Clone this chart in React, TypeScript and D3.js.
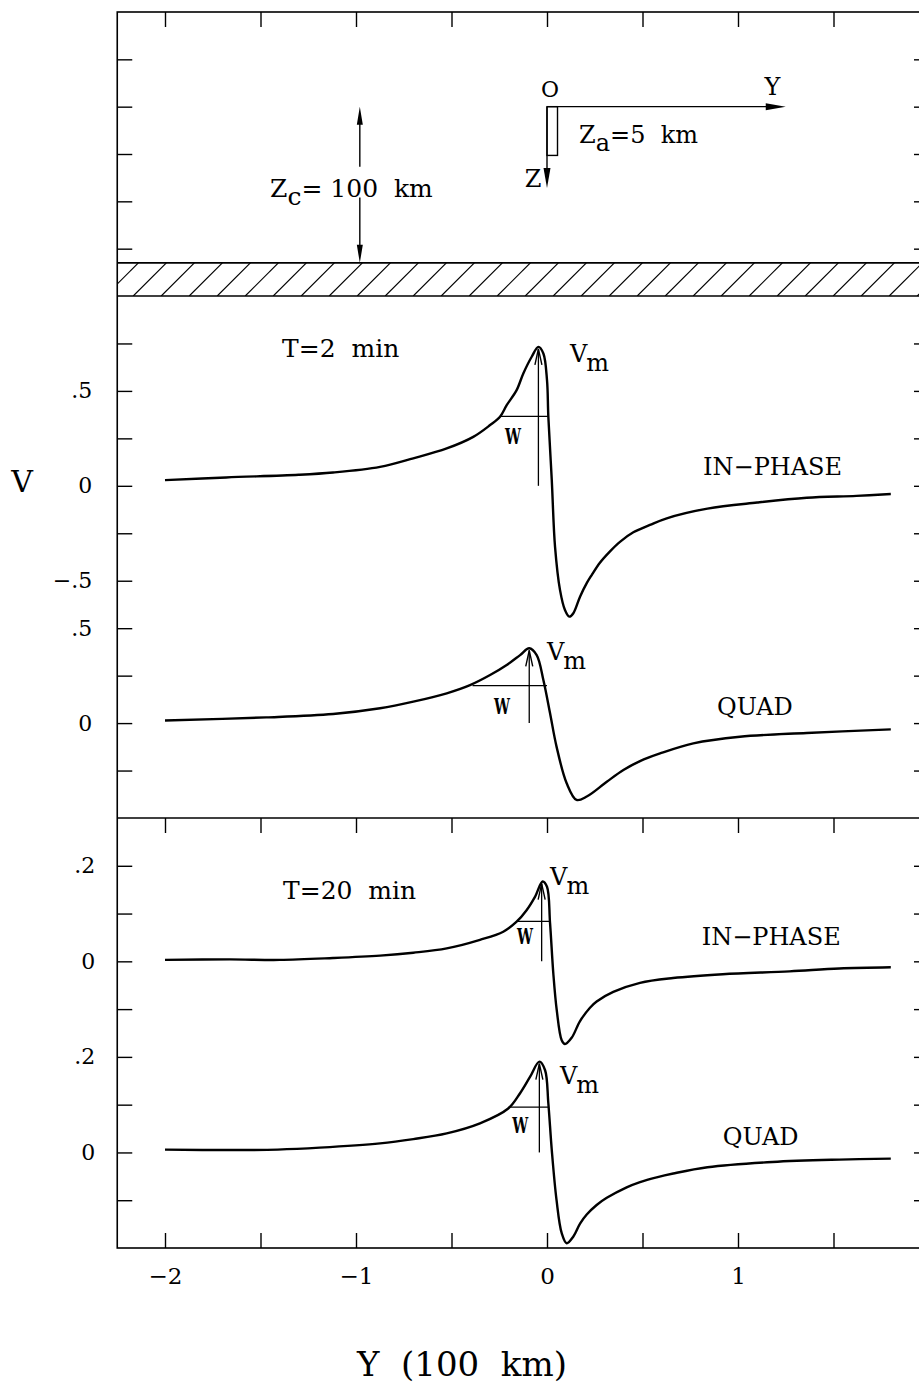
import React, { useEffect, useRef } from 'react';
import * as d3 from 'd3';

// Profiles across the anomaly: Y in units of 100 km, V normalised.
// Values.

// T = 2 min, in-phase
const ip2Y = [-2.0, -1.68, -1.3, -1.12, -0.874, -0.7, -0.525, -0.386, -0.298, -0.246, -0.211, -0.159, -0.124, -0.08, -0.045, -0.019, 0.0, 0.007, 0.025, 0.042, 0.068, 0.094, 0.117, 0.138, 0.173, 0.208, 0.234, 0.277, 0.33, 0.382, 0.452, 0.539, 0.627, 0.84, 1.1, 1.36, 1.62, 1.8];
const ip2V = [0.03, 0.044, 0.058, 0.07, 0.1, 0.145, 0.197, 0.258, 0.32, 0.364, 0.425, 0.504, 0.592, 0.68, 0.732, 0.697, 0.557, 0.364, 0.03, -0.32, -0.548, -0.654, -0.689, -0.671, -0.584, -0.513, -0.47, -0.405, -0.345, -0.295, -0.245, -0.206, -0.171, -0.12, -0.088, -0.063, -0.053, -0.043];

// T = 2 min, quadrature
const q2Y = [-2.0, -1.47, -1.12, -0.874, -0.7, -0.525, -0.403, -0.298, -0.211, -0.141, -0.093, -0.054, -0.019, 0.016, 0.05, 0.103, 0.155, 0.208, 0.313, 0.4, 0.487, 0.592, 0.766, 1.01, 1.36, 1.8];
const q2V = [0.014, 0.03, 0.048, 0.078, 0.113, 0.157, 0.2, 0.253, 0.306, 0.358, 0.394, 0.358, 0.227, 0.052, -0.124, -0.317, -0.405, -0.387, -0.309, -0.247, -0.2, -0.16, -0.107, -0.072, -0.052, -0.033];

// T = 20 min, in-phase
const ip20Y = [-2.0, -1.66, -1.4, -1.12, -0.874, -0.7, -0.525, -0.351, -0.229, -0.159, -0.107, -0.063, -0.023, 0.0, 0.016, 0.033, 0.051, 0.077, 0.094, 0.129, 0.173, 0.225, 0.26, 0.347, 0.487, 0.66, 0.92, 1.27, 1.53, 1.8];
const ip20V = [0.003, 0.004, 0.003, 0.007, 0.012, 0.018, 0.027, 0.045, 0.062, 0.083, 0.107, 0.135, 0.167, 0.156, 0.08, -0.025, -0.102, -0.165, -0.173, -0.16, -0.125, -0.097, -0.084, -0.064, -0.045, -0.035, -0.027, -0.021, -0.015, -0.0125];

// T = 20 min, quadrature
const q20Y = [-2.0, -1.66, -1.41, -1.19, -0.874, -0.7, -0.525, -0.351, -0.203, -0.141, -0.089, -0.04, -0.01, 0.007, 0.025, 0.05, 0.077, 0.103, 0.138, 0.173, 0.208, 0.26, 0.313, 0.417, 0.487, 0.574, 0.661, 0.84, 1.18, 1.53, 1.8];
const q20V = [0.006, 0.005, 0.006, 0.01, 0.019, 0.028, 0.04, 0.061, 0.092, 0.124, 0.158, 0.19, 0.172, 0.103, 0.005, -0.1, -0.169, -0.19, -0.176, -0.149, -0.13, -0.11, -0.095, -0.073, -0.062, -0.052, -0.044, -0.031, -0.02, -0.015, -0.013];

// ticks
const xTicks = [-2, -1.5, -1, -0.5, 0, 0.5, 1, 1.5];
const xTickLabels = ['−2', '', '−1', '', '0', '', '1', ''];
const topTicks = [1, 2, 3, 4, 5];
const midTicks = [0.75, 0.5, 0.25, 0, -0.25, -0.5, -0.75, -1, -1.25, -1.5]; // in-phase units
const lowTicks = [0.2, 0.1, 0, -0.1, -0.2, -0.3, -0.4, -0.5]; // in-phase units
const midIPLabels = [0.5, 0, -0.5];
const midQLabels = [0.5, 0];
const lowIPLabels = [0.2, 0];
const lowQLabels = [0.2, 0];

// sketch in the top panel (schematic depth units)
const originDepth = 2;
const yArrowEnd = 1.25;
const zArrowEnd = 3.72;
const slabWidth = 0.055;
const slabBottom = 3.03;
const conductorTop = 5.3;
const zcAt = -0.98;

const FONT = '"DejaVu Serif", serif';

const fmtV = (v: number) => (v === 0 ? '0' : (v < 0 ? '−' : '') + String(Math.abs(v)).replace(/^0/, ''));

const App = () => {
  const svgRef = useRef<SVGSVGElement>(null);

  useEffect(() => {
    if (!svgRef.current) return;
    const svg = d3.select(svgRef.current);
    svg.selectAll('*').remove();

    const width = 919;
    const height = 1384;
    svg.attr('width', width).attr('height', height);
    svg.append('rect').attr('width', width).attr('height', height).attr('fill', '#fff');

    const x = d3.scaleLinear().domain([-2, 1]).range([165, 738]);
    const left = x(-2.25);
    const right = x(2.0);
    const yTop = d3.scaleLinear().domain([0, 6]).range([12, 296]);
    const yMidIP = d3.scaleLinear().domain([1.0, -1.75]).range([296, 818]);
    const yMidQ = d3.scaleLinear().domain([2.25, -0.5]).range([296, 818]);
    const yLowIP = d3.scaleLinear().domain([0.3, -0.6]).range([818, 1248]);
    const yLowQ = d3.scaleLinear().domain([0.7, -0.2]).range([818, 1248]);
    const bottom = yLowIP(-0.6);

    // hatched conductor
    svg.append('clipPath').attr('id', 'band')
      .append('rect')
      .attr('x', left).attr('y', yTop(conductorTop))
      .attr('width', right - left).attr('height', yTop(6) - yTop(conductorTop));
    const hatchH = yTop(6) - yTop(conductorTop);
    svg.append('g').attr('clip-path', 'url(#band)')
      .selectAll('line')
      .data(d3.range(left - 40, right + 10, 28))
      .join('line')
      .attr('x1', d => d).attr('y1', yTop(6))
      .attr('x2', d => d + hatchH).attr('y2', yTop(conductorTop))
      .attr('stroke', '#000').attr('stroke-width', 1.2);

    // frame
    const frame = svg.append('g').attr('stroke', '#000').attr('stroke-width', 1.6).attr('fill', 'none');
    frame.append('rect').attr('x', left).attr('y', yTop(0)).attr('width', right - left).attr('height', bottom - yTop(0));
    [yTop(conductorTop), yTop(6), yMidIP(-1.75)].forEach(yy => {
      frame.append('line').attr('x1', left).attr('x2', right).attr('y1', yy).attr('y2', yy);
    });

    // side ticks
    const sideTicks = (scale: d3.ScaleLinear<number, number>, values: number[]) => {
      svg.append('g').attr('transform', `translate(${left},0)`)
        .call(d3.axisLeft(scale).tickValues(values).tickSize(-15).tickFormat(() => ''))
        .call(g => g.select('.domain').remove())
        .selectAll('line').attr('stroke-width', 1.4);
      svg.append('g').attr('transform', `translate(${right},0)`)
        .call(d3.axisRight(scale).tickValues(values).tickSize(-15).tickFormat(() => ''))
        .call(g => g.select('.domain').remove())
        .selectAll('line').attr('stroke-width', 1.4);
    };
    sideTicks(yTop, topTicks);
    sideTicks(yMidIP, midTicks);
    sideTicks(yLowIP, lowTicks);

    // V tick labels
    const vLabels = (scale: d3.ScaleLinear<number, number>, values: number[], pad: number) => {
      svg.append('g').attr('transform', `translate(${left},0)`)
        .call(d3.axisLeft(scale).tickValues(values).tickSize(0).tickPadding(pad).tickFormat(d => fmtV(+d)))
        .call(g => g.select('.domain').remove())
        .selectAll('text')
        .attr('font-family', FONT).attr('font-size', 22).attr('fill', '#000');
    };
    vLabels(yMidIP, midIPLabels, 25);
    vLabels(yMidQ, midQLabels, 25);
    vLabels(yLowIP, lowIPLabels, 22);
    vLabels(yLowQ, lowQLabels, 22);

    // Y ticks
    const xTickAt = (yy: number, up: boolean) => {
      const ax = up ? d3.axisTop(x) : d3.axisBottom(x);
      svg.append('g').attr('transform', `translate(0,${yy})`)
        .call(ax.tickValues(xTicks).tickSize(15).tickFormat(() => ''))
        .call(g => g.select('.domain').remove())
        .selectAll('line').attr('stroke-width', 1.4);
    };
    xTickAt(yTop(0), false);
    xTickAt(yMidIP(-1.75), false);
    xTickAt(bottom, true);

    svg.append('g').attr('transform', `translate(0,${bottom})`)
      .call(d3.axisBottom(x).tickValues(xTicks).tickSize(0).tickPadding(20)
        .tickFormat((d, i) => xTickLabels[i]))
      .call(g => g.select('.domain').remove())
      .selectAll('text')
      .attr('font-family', FONT).attr('font-size', 23).attr('fill', '#000');

    // axis titles
    svg.append('text').attr('x', 22).attr('y', yMidIP(0) + 6)
      .attr('text-anchor', 'middle').attr('font-family', FONT).attr('font-size', 30)
      .text('V');
    svg.append('text').attr('x', 357).attr('y', 1376)
      .attr('font-family', FONT).attr('font-size', 34)
      .text('Y\u00A0\u00A0(100\u00A0\u00A0km)');

    // curves
    const series = [
      { ys: ip2Y, vs: ip2V, y: yMidIP, arrowAt: -0.045, wFrom: -0.245, wTo: 0.006, label: 'IN−PHASE', labelAt: [0.817, 0.057], vmAt: [0.12, 0.65], wAt: [-0.178, 0.22] },
      { ys: q2Y, vs: q2V, y: yMidQ, arrowAt: -0.093, wFrom: -0.39, wTo: 0.0, label: 'QUAD', labelAt: [0.89, 0.044], vmAt: [0.0, 0.33], wAt: [-0.236, 0.047] },
      { ys: ip20Y, vs: ip20V, y: yLowIP, arrowAt: -0.028, wFrom: -0.157, wTo: 0.016, label: 'IN−PHASE', labelAt: [0.81, 0.034], vmAt: [0.016, 0.16], wAt: [-0.115, 0.036] },
      { ys: q20Y, vs: q20V, y: yLowQ, arrowAt: -0.04, wFrom: -0.2, wTo: 0.008, label: 'QUAD', labelAt: [0.92, 0.015], vmAt: [0.068, 0.143], wAt: [-0.14, 0.04] },
    ];

    series.forEach(s => {
      const pts: [number, number][] = s.ys.map((v, i) => [v, s.vs[i]]);
      const line = d3.line<[number, number]>()
        .x(d => x(d[0]))
        .y(d => s.y(d[1]))
        .curve(d3.curveCatmullRom.alpha(0.5));
      svg.append('path').attr('d', line(pts))
        .attr('fill', 'none').attr('stroke', '#000').attr('stroke-width', 2.4)
        .attr('stroke-linejoin', 'round');

      const peak = d3.max(s.vs) as number;
      const ax = x(s.arrowAt);
      const tipY = s.y(peak) + 2;
      // Vm arrow
      svg.append('line').attr('x1', ax).attr('x2', ax).attr('y1', s.y(0)).attr('y2', tipY)
        .attr('stroke', '#000').attr('stroke-width', 1.3);
      svg.append('path')
        .attr('d', `M${ax - 3.5},${tipY + 16}L${ax},${tipY}L${ax + 3.5},${tipY + 16}`)
        .attr('fill', 'none').attr('stroke', '#000').attr('stroke-width', 1.4);
      // half width
      svg.append('line').attr('x1', x(s.wFrom)).attr('x2', x(s.wTo))
        .attr('y1', s.y(peak / 2)).attr('y2', s.y(peak / 2))
        .attr('stroke', '#000').attr('stroke-width', 1.3);

      svg.append('text').attr('x', x(s.wAt[0])).attr('y', s.y(s.wAt[1]))
        .attr('text-anchor', 'middle').attr('font-family', FONT).attr('font-weight', 'bold')
        .attr('font-size', 23).attr('textLength', 16).attr('lengthAdjust', 'spacingAndGlyphs')
        .text('W');

      const vm = svg.append('text').attr('x', x(s.vmAt[0])).attr('y', s.y(s.vmAt[1]))
        .attr('font-family', FONT).attr('font-size', 24);
      vm.append('tspan').text('V');
      vm.append('tspan').attr('dy', 9).attr('dx', -1).text('m');

      svg.append('text').attr('x', x(s.labelAt[0])).attr('y', s.y(s.labelAt[1]))
        .attr('font-family', FONT).attr('font-size', 24)
        .text(s.label);
    });

    svg.append('text').attr('x', x(-1.387)).attr('y', yMidIP(0.68))
      .attr('font-family', FONT).attr('font-size', 25).text('T=2\u00A0\u00A0min');
    svg.append('text').attr('x', x(-1.382)).attr('y', yLowIP(0.13))
      .attr('font-family', FONT).attr('font-size', 25).text('T=20\u00A0\u00A0min');

    // coordinate sketch
    const ox = x(0);
    const oy = yTop(originDepth);
    const sketch = svg.append('g').attr('stroke', '#000').attr('stroke-width', 1.4).attr('fill', 'none');
    sketch.append('line').attr('x1', ox).attr('y1', oy).attr('x2', x(yArrowEnd) - 14).attr('y2', oy);
    svg.append('path')
      .attr('d', `M${x(yArrowEnd)},${oy}L${x(yArrowEnd) - 20},${oy - 3.5}L${x(yArrowEnd) - 20},${oy + 3.5}Z`)
      .attr('fill', '#000');
    sketch.append('line').attr('x1', ox).attr('y1', oy).attr('x2', ox).attr('y2', yTop(zArrowEnd) - 14);
    svg.append('path')
      .attr('d', `M${ox},${yTop(zArrowEnd)}L${ox - 3.5},${yTop(zArrowEnd) - 20}L${ox + 3.5},${yTop(zArrowEnd) - 20}Z`)
      .attr('fill', '#000');
    sketch.append('rect').attr('x', ox).attr('y', oy)
      .attr('width', x(slabWidth) - ox).attr('height', yTop(slabBottom) - oy);

    svg.append('text').attr('x', x(0.016)).attr('y', yTop(1.8)).attr('text-anchor', 'middle')
      .attr('font-family', FONT).attr('font-size', 22).text('O');
    svg.append('text').attr('x', x(1.18)).attr('y', yTop(1.75)).attr('text-anchor', 'middle')
      .attr('font-family', FONT).attr('font-size', 24).text('Y');
    svg.append('text').attr('x', x(-0.073)).attr('y', yTop(3.7)).attr('text-anchor', 'middle')
      .attr('font-family', FONT).attr('font-size', 24).text('Z');
    const za = svg.append('text').attr('x', x(0.168)).attr('y', yTop(2.77))
      .attr('font-family', FONT).attr('font-size', 24);
    za.append('tspan').text('Z');
    za.append('tspan').attr('dy', 8).text('a');
    za.append('tspan').attr('dy', -8).text('=5\u00A0\u00A0km');

    // depth to conductor
    const zx = x(zcAt);
    const zTop = yTop(originDepth);
    const zBot = yTop(conductorTop);
    sketch.append('line').attr('x1', zx).attr('x2', zx).attr('y1', zTop + 12).attr('y2', yTop(3.27));
    sketch.append('line').attr('x1', zx).attr('x2', zx).attr('y1', yTop(3.92)).attr('y2', zBot - 12);
    svg.append('path')
      .attr('d', `M${zx},${zTop}L${zx - 3},${zTop + 18}L${zx + 3},${zTop + 18}Z M${zx},${zBot}L${zx - 3},${zBot - 18}L${zx + 3},${zBot - 18}Z`)
      .attr('fill', '#000');
    const zc = svg.append('text').attr('x', x(-1.45)).attr('y', yTop(3.9))
      .attr('font-family', FONT).attr('font-size', 25);
    zc.append('tspan').text('Z');
    zc.append('tspan').attr('dy', 8).text('c');
    zc.append('tspan').attr('dy', -8).text('=\u00A0100\u00A0\u00A0km');
  }, []);

  return (
    <svg ref={svgRef} style={{ position: 'absolute', left: 0, top: 0, display: 'block' }}></svg>
  );
};

export default App;
